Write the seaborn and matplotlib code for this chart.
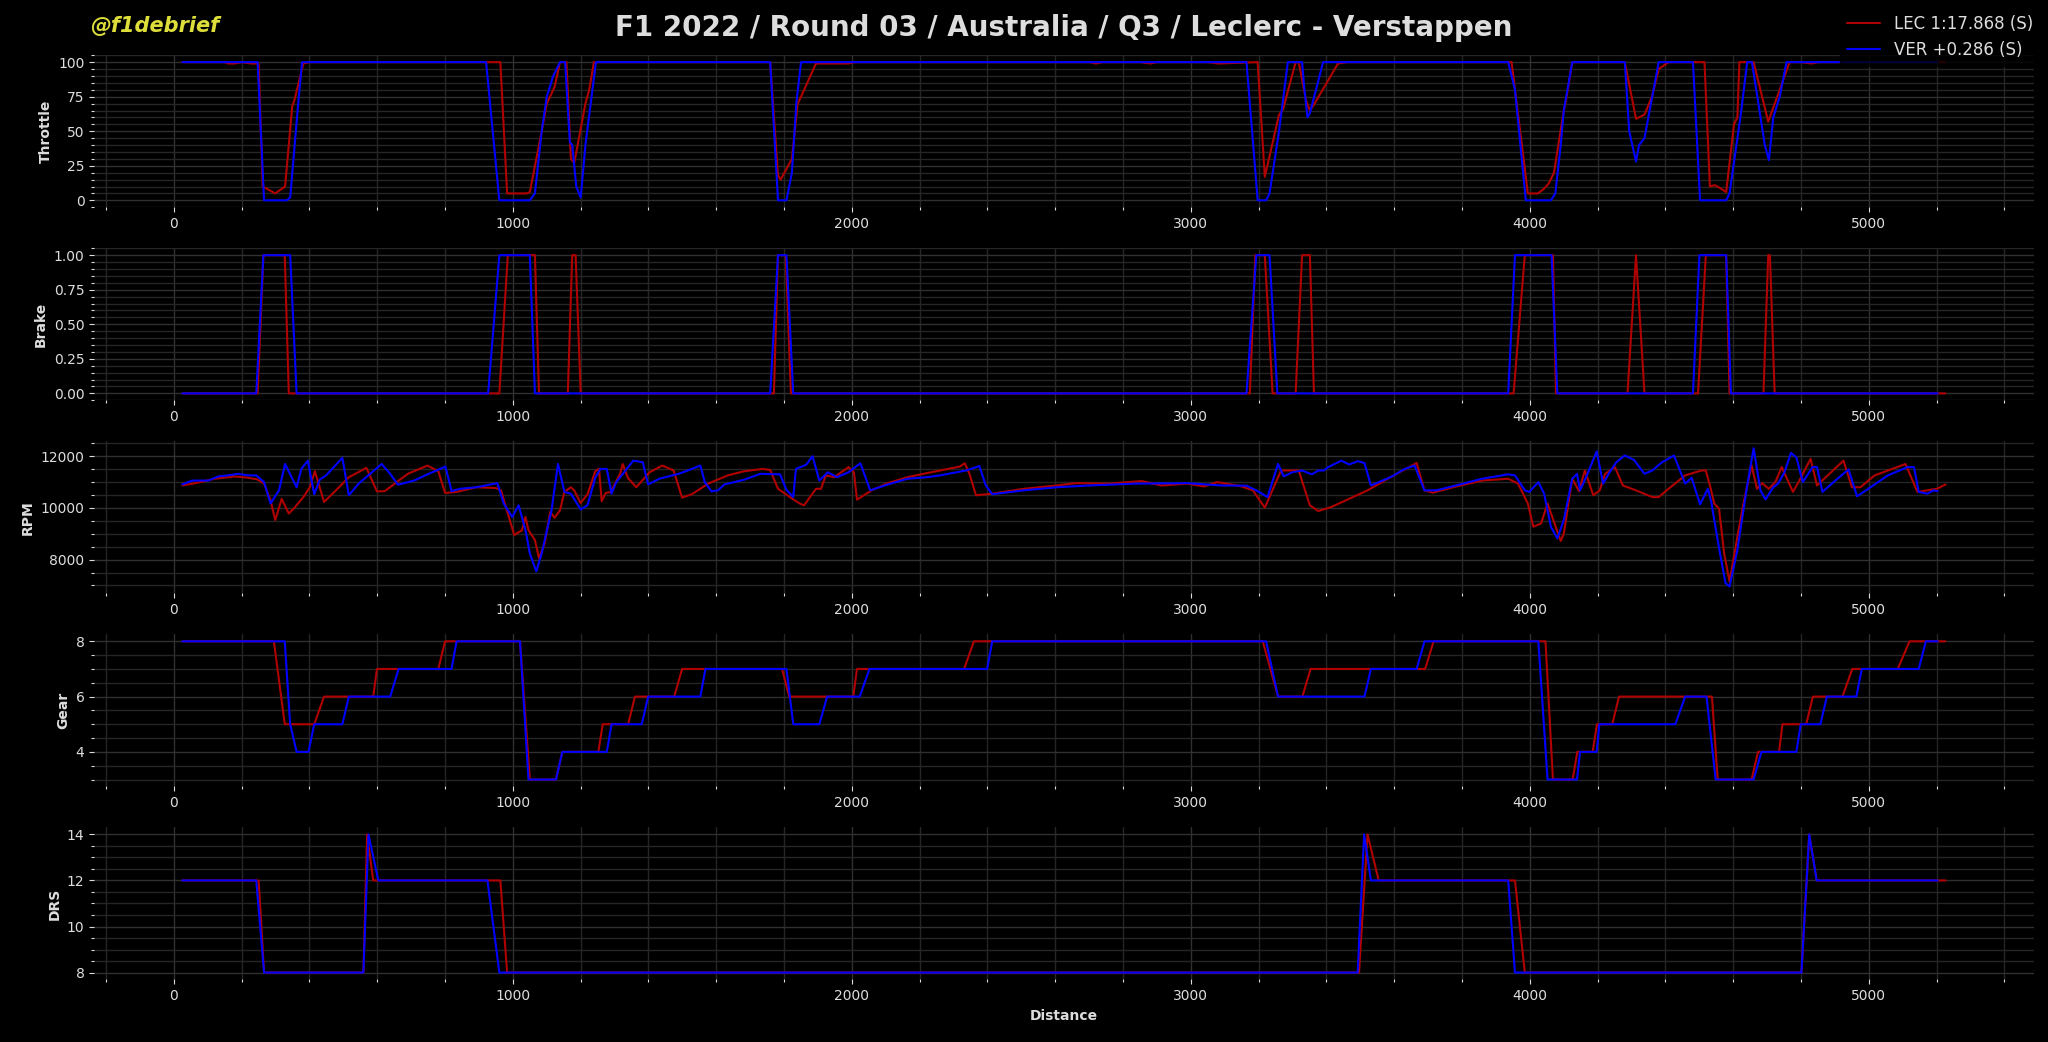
import numpy as np
import pandas as pd
import matplotlib
matplotlib.use("Agg")
import matplotlib.pyplot as plt
from matplotlib.ticker import MultipleLocator, AutoMinorLocator
import seaborn as sns

drivers = ["LEC", "VER"]
lap_labels = ["LEC 1:17.868 (S)", "VER +0.286 (S)"]
colors = ["#b00000", "#0000ff"]

# throttle (distance, %)
lec_thr_d = [25, 150, 160, 180, 200, 230, 250, 262, 299, 328, 349, 355, 382, 400, 963, 983, 1040, 1050,
             1085, 1100, 1123, 1139, 1158, 1171, 1181, 1214, 1225, 1239, 1759, 1782, 1790, 1823, 1840,
             1850, 1894, 1990, 2010, 2700, 2720, 2740, 2850, 2880, 2900, 3050, 3080, 3197, 3218, 3260,
             3272, 3309, 3318, 3340, 3351, 3360, 3434, 3460, 3946, 3994, 4023, 4040, 4055, 4071, 4100,
             4105, 4125, 4280, 4313, 4338, 4360, 4380, 4409, 4515, 4531, 4545, 4560, 4579, 4602, 4612,
             4618, 4660, 4703, 4737, 4766, 4800, 4830, 4850, 5226]
lec_thr = [100, 100, 99, 99, 100, 99, 99, 10, 5, 10, 68, 72, 99, 100, 100, 5, 5, 6,
           50, 70, 82, 100, 100, 30, 27, 70, 80, 100, 100, 18, 15, 30, 70,
           75, 99, 99, 100, 100, 99, 100, 100, 99, 100, 100, 99, 100, 17, 62,
           66, 100, 100, 72, 65, 68, 99, 100, 100, 5, 5, 8, 12, 20, 65,
           70, 100, 100, 59, 62, 75, 95, 100, 100, 10, 11, 9, 6, 55, 60,
           100, 100, 57, 80, 100, 100, 99, 100, 100]
ver_thr_d = [25, 247, 266, 333, 343, 366, 378, 921, 960, 1050, 1065, 1085, 1100, 1119, 1139, 1154, 1168,
             1175, 1187, 1200, 1214, 1245, 1759, 1782, 1807, 1823, 1836, 1850, 3164, 3197, 3222, 3232,
             3260, 3286, 3328, 3333, 3344, 3351, 3390, 3936, 3956, 3988, 4062, 4075, 4091, 4100, 4125,
             4280, 4293, 4313, 4322, 4338, 4380, 4481, 4502, 4579, 4589, 4622, 4641, 4655, 4693, 4705,
             4718, 4737, 4757, 5203]
ver_thr = [100, 100, 0, 0, 2, 68, 100, 100, 0, 0, 5, 50, 75, 90, 100, 100, 42,
           40, 10, 2, 40, 100, 100, 0, 0, 20, 70, 100, 100, 0, 0, 5,
           50, 100, 100, 85, 60, 63, 100, 100, 80, 0, 0, 5, 40, 65, 100,
           100, 50, 28, 40, 45, 100, 100, 0, 0, 5, 62, 100, 100, 40, 29,
           60, 75, 100, 100]

# brake (distance, on/off)
lec_brk_d = [25, 247, 264, 327, 339, 960, 985, 1065, 1077, 1162, 1175, 1185, 1200, 1770, 1782, 1805,
             1820, 3174, 3190, 3218, 3241, 3309, 3328, 3351, 3363, 3952, 3985, 4068, 4077, 4288, 4313,
             4338, 4496, 4519, 4579, 4589, 4689, 4703, 4708, 4722, 5226]
lec_brk = [0, 0, 1, 1, 0, 0, 1, 1, 0, 0, 1, 1, 0, 0, 1, 1,
           0, 0, 1, 1, 0, 0, 1, 1, 0, 0, 1, 1, 0, 0, 1,
           0, 0, 1, 1, 0, 0, 1, 1, 0, 0]
ver_brk_d = [25, 243, 264, 343, 362, 927, 960, 1050, 1065, 1759, 1782, 1807, 1827, 3164, 3193, 3232,
             3255, 3936, 3956, 4064, 4081, 4481, 4500, 4579, 4593, 5203]
ver_brk = [0, 0, 1, 1, 0, 0, 1, 1, 0, 0, 1, 1, 0, 0, 1, 1,
           0, 0, 1, 1, 0, 0, 1, 1, 0, 0]

# rpm
lec_rpm_d = [25, 64, 121, 179, 218, 247, 266, 285, 299, 318, 339, 356, 382, 401, 416, 443, 478, 516,
             568, 599, 622, 690, 748, 780, 800, 834, 892, 950, 965, 985, 1004, 1027, 1037, 1046, 1065,
             1077, 1094, 1110, 1123, 1139, 1152, 1171, 1181, 1200, 1220, 1243, 1254, 1262, 1274, 1289,
             1316, 1324, 1339, 1364, 1403, 1441, 1474, 1499, 1528, 1576, 1634, 1682, 1736, 1759, 1782,
             1817, 1846, 1859, 1894, 1909, 1923, 1948, 1990, 2006, 2015, 2058, 2106, 2164, 2222, 2318,
             2333, 2347, 2366, 2414, 2507, 2604, 2662, 2759, 2855, 2913, 2990, 3039, 3077, 3145, 3183,
             3218, 3266, 3318, 3351, 3376, 3415, 3463, 3521, 3589, 3666, 3689, 3714, 3782, 3859, 3936,
             3965, 3994, 4010, 4033, 4052, 4091, 4100, 4125, 4145, 4162, 4187, 4206, 4222, 4251, 4274,
             4313, 4361, 4380, 4409, 4458, 4506, 4519, 4531, 4544, 4558, 4573, 4589, 4612, 4631, 4654,
             4670, 4685, 4705, 4724, 4743, 4763, 4776, 4795, 4828, 4847, 4925, 4950, 4975, 5017, 5108,
             5143, 5201, 5226]
lec_rpm = [10870, 10960, 11130, 11220, 11170, 11100, 10940, 10300, 9530, 10350, 9780, 10010, 10420,
           10800, 11420, 10230, 10680, 11190, 11550, 10640, 10650, 11320, 11640, 11420, 10580, 10620,
           10800, 10770, 10680, 9780, 8950, 9140, 9650, 9140, 8760, 8050, 8630, 9850, 9620, 9910,
           10620, 10800, 10680, 10190, 10530, 11420, 11510, 10260, 10580, 10620, 11320, 11700, 11170,
           10800, 11380, 11640, 11450, 10400, 10530, 10940, 11260, 11420, 11510, 11470, 10740, 10420,
           10170, 10100, 10740, 10740, 11260, 11190, 11580, 11380, 10320, 10680, 10960, 11190, 11350,
           11600, 11730, 11320, 10490, 10550, 10740, 10870, 10960, 10940, 11040, 10870, 10940, 10830,
           11000, 10850, 10680, 10010, 11450, 11450, 10100, 9880, 10040, 10330, 10680, 11190, 11740,
           10680, 10590, 10830, 11060, 11130, 10940, 10170, 9270, 9400, 10170, 8720, 9000, 11130,
           10650, 11450, 10490, 10680, 11320, 11580, 10870, 10680, 10420, 10420, 10740, 11260, 11450,
           11450, 10870, 10170, 9970, 8240, 7150, 8880, 10230, 11640, 10740, 10960, 10740, 11000,
           11580, 11000, 10620, 11060, 11900, 10870, 11830, 10800, 10800, 11260, 11700, 10620, 10740,
           10910]
ver_rpm_d = [25, 54, 102, 131, 160, 189, 218, 243, 266, 285, 310, 328, 362, 376, 395, 414, 430, 449,
             497, 516, 545, 613, 638, 661, 709, 748, 801, 819, 844, 892, 954, 973, 998, 1017, 1037,
             1050, 1069, 1085, 1114, 1133, 1152, 1171, 1200, 1220, 1243, 1258, 1277, 1291, 1305, 1355,
             1383, 1399, 1432, 1489, 1528, 1553, 1566, 1586, 1605, 1624, 1682, 1730, 1788, 1807, 1827,
             1835, 1865, 1884, 1904, 1929, 1956, 1990, 2025, 2054, 2106, 2164, 2222, 2260, 2337, 2376,
             2395, 2414, 2507, 2604, 2701, 2836, 2990, 3087, 3164, 3193, 3226, 3257, 3274, 3299, 3328,
             3357, 3376, 3392, 3405, 3444, 3467, 3492, 3512, 3531, 3589, 3631, 3660, 3689, 3724, 3782,
             3859, 3936, 3956, 3985, 3998, 4025, 4042, 4062, 4081, 4100, 4125, 4139, 4148, 4168, 4197,
             4216, 4235, 4255, 4280, 4307, 4338, 4361, 4390, 4425, 4458, 4477, 4502, 4525, 4535, 4558,
             4577, 4589, 4612, 4641, 4660, 4680, 4695, 4718, 4732, 4751, 4770, 4786, 4805, 4834, 4847,
             4863, 4901, 4940, 4965, 4998, 5056, 5114, 5133, 5147, 5172, 5191, 5203]
ver_rpm = [10910, 11060, 11060, 11220, 11260, 11320, 11260, 11260, 11000, 10170, 10680, 11700, 10800,
           11510, 11830, 10530, 11090, 11260, 11940, 10490, 10940, 11700, 11320, 10900, 11060, 11300,
           11600, 10650, 10740, 10800, 10960, 10170, 9650, 10100, 9140, 8240, 7540, 8240, 9910, 11700,
           10620, 10550, 9940, 10100, 11170, 11510, 11510, 10550, 11000, 11830, 11770, 10910, 11130,
           11320, 11510, 11640, 11000, 10640, 10680, 10910, 11090, 11320, 11300, 10700, 10420, 11510,
           11670, 12000, 11060, 11380, 11190, 11380, 11730, 10680, 10910, 11130, 11190, 11260, 11450,
           11620, 10870, 10530, 10680, 10800, 10870, 10940, 10960, 10870, 10860, 10680, 10420, 11700,
           11220, 11380, 11450, 11300, 11450, 11450, 11580, 11830, 11680, 11810, 11740, 10870, 11190,
           11510, 11640, 10680, 10680, 10870, 11130, 11300, 11260, 10680, 10620, 11000, 10550, 9270,
           8820, 9530, 11130, 11320, 10680, 11260, 12190, 10940, 11380, 11770, 12030, 11860, 11320,
           11450, 11770, 12030, 10940, 11170, 10140, 10740, 10230, 8440, 7090, 6960, 8370, 10870,
           12310, 10680, 10330, 10800, 10940, 11380, 12130, 11960, 11000, 11580, 11580, 10620, 11060,
           11490, 10450, 10740, 11260, 11580, 11580, 10620, 10550, 10680, 10650]

# gear
lec_gear_d = [25, 295, 327, 414, 443, 588, 599, 780, 800, 1021, 1050, 1127, 1146, 1252, 1265, 1340,
              1360, 1476, 1499, 1794, 1815, 2004, 2015, 2331, 2360, 3212, 3257, 3329, 3353, 3691, 3716,
              4046, 4068, 4126, 4140, 4185, 4198, 4243, 4263, 4537, 4554, 4654, 4673, 4735, 4745, 4815,
              4835, 4922, 4951, 5085, 5120, 5226]
lec_gear = [8, 8, 5, 5, 6, 6, 7, 7, 8, 8, 3, 3, 4, 4, 5, 5,
            6, 6, 7, 7, 6, 6, 7, 7, 8, 8, 6, 6, 7, 7, 8,
            8, 3, 3, 4, 4, 5, 5, 6, 6, 3, 3, 4, 4, 5, 5,
            6, 6, 7, 7, 8, 8]
ver_gear_d = [25, 327, 343, 362, 397, 414, 497, 516, 638, 663, 819, 834, 1021, 1046, 1127, 1146, 1277,
              1291, 1380, 1399, 1553, 1568, 1807, 1827, 1904, 1927, 2023, 2052, 2399, 2414, 3222, 3257,
              3512, 3531, 3666, 3689, 4025, 4052, 4139, 4148, 4197, 4205, 4429, 4458, 4521, 4548, 4660,
              4683, 4786, 4799, 4857, 4876, 4963, 4979, 5147, 5168, 5203]
ver_gear = [8, 8, 5, 4, 4, 5, 5, 6, 6, 7, 7, 8, 8, 3, 3, 4, 4,
            5, 5, 6, 6, 7, 7, 5, 5, 6, 6, 7, 7, 8, 8, 6,
            6, 7, 7, 8, 8, 3, 3, 4, 4, 5, 5, 6, 6, 3, 3,
            4, 4, 5, 5, 6, 6, 7, 7, 8, 8]

# drs
lec_drs_d = [25, 250, 266, 559, 570, 588, 963, 983, 3496, 3521, 3554, 3956, 3985, 4801, 4824, 4846, 5226]
lec_drs = [12, 12, 8, 8, 14, 12, 12, 8, 8, 14, 12, 12, 8, 8, 14, 12, 12]
ver_drs_d = [25, 243, 266, 559, 574, 603, 925, 960, 3492, 3511, 3531, 3936, 3956, 4801, 4824, 4846, 5203]
ver_drs = [12, 12, 8, 8, 14, 12, 12, 8, 8, 14, 12, 12, 8, 8, 14, 12, 12]

channels = ["Throttle", "Brake", "RPM", "Gear", "DRS"]
series = {
    "Throttle": [(lec_thr_d, lec_thr), (ver_thr_d, ver_thr)],
    "Brake": [(lec_brk_d, lec_brk), (ver_brk_d, ver_brk)],
    "RPM": [(lec_rpm_d, lec_rpm), (ver_rpm_d, ver_rpm)],
    "Gear": [(lec_gear_d, lec_gear), (ver_gear_d, ver_gear)],
    "DRS": [(lec_drs_d, lec_drs), (ver_drs_d, ver_drs)],
}
major_step = {"Throttle": 25, "Brake": 0.25, "RPM": 2000, "Gear": 2, "DRS": 2}

sns.set_style("dark")
plt.rcParams.update({
    "figure.facecolor": "black",
    "axes.facecolor": "black",
    "savefig.facecolor": "black",
    "text.color": "#dddddd",
    "axes.labelcolor": "#dddddd",
    "xtick.color": "#dddddd",
    "ytick.color": "#dddddd",
    "xtick.bottom": True,
    "ytick.left": True,
})
plt.rcParams["font.family"] = ["DejaVu Sans"]

palette = dict(zip(lap_labels, colors))

fig, axes = plt.subplots(5, 1, figsize=(20.48, 10.42), dpi=100)
fig.subplots_adjust(left=0.046, right=0.993, top=0.947, bottom=0.06, hspace=0.27)

for ax, ch in zip(axes, channels):
    frames = []
    for lab, (d, v) in zip(lap_labels, series[ch]):
        frames.append(pd.DataFrame({"Distance": d, ch: v, "Driver": lab}))
    df = pd.concat(frames, ignore_index=True)
    sns.lineplot(data=df, x="Distance", y=ch, hue="Driver", palette=palette,
                 estimator=None, sort=False, linewidth=1.5, ax=ax, legend=False)
    ax.xaxis.set_major_locator(MultipleLocator(1000))
    ax.xaxis.set_minor_locator(AutoMinorLocator())
    ax.yaxis.set_major_locator(MultipleLocator(major_step[ch]))
    ax.yaxis.set_minor_locator(AutoMinorLocator())
    ax.grid(which="major", color="#303030", linewidth=1.0)
    ax.grid(which="minor", color="#262626", linewidth=1.0)
    ax.set_axisbelow(True)
    for s in ax.spines.values():
        s.set_visible(False)
    ax.tick_params(which="both", labelsize=10, length=3.5, width=0.8)
    ax.tick_params(which="minor", length=2)
    ax.set_ylabel(ch, fontweight="bold", fontsize=10)
    ax.set_xlabel("")

axes[-1].set_xlabel("Distance", fontweight="bold", fontsize=10)
axes[0].set_title("F1 2022 / Round 03 / Australia / Q3 / Leclerc - Verstappen",
                  fontsize=20, fontweight="bold", color="#dddddd", pad=14)
fig.text(0.044, 0.975, "@f1debrief", color="#dede3a", fontsize=15,
         fontstyle="italic", fontweight="bold", va="center", ha="left")

handles = [plt.Line2D([], [], color=c, linewidth=1.5) for c in colors]
leg = fig.legend(handles, lap_labels, loc="upper right", bbox_to_anchor=(1.0, 1.0),
                 fontsize=12, frameon=True, facecolor="black", edgecolor="black",
                 framealpha=0.8, labelcolor="#dddddd")

fig.savefig("out.png", dpi=100)
